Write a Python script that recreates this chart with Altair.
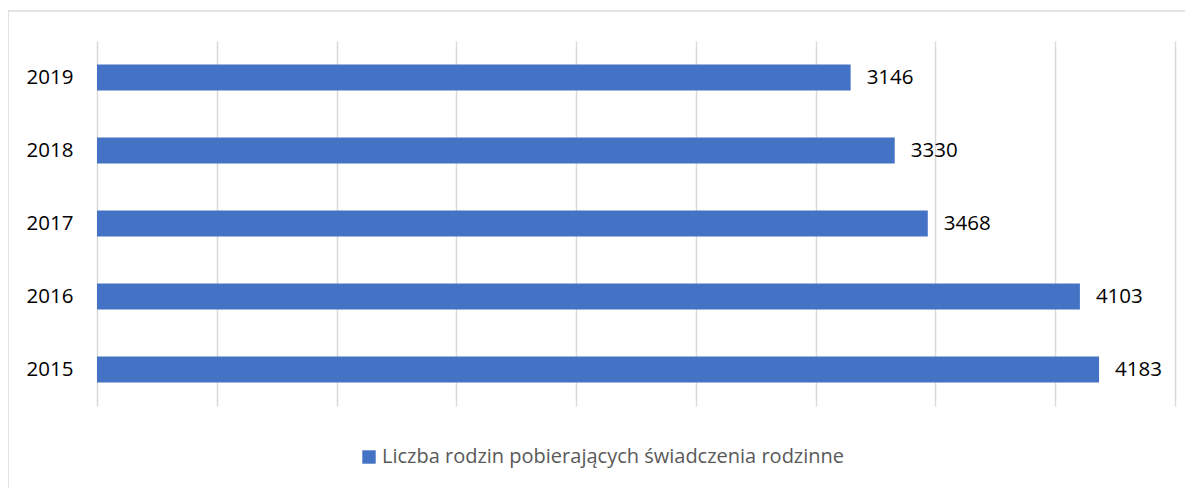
import altair as alt
import pandas as pd

years = ["2019", "2018", "2017", "2016", "2015"]
values = [3146, 3330, 3468, 4103, 4183]
series_name = "Liczba rodzin pobierających świadczenia rodzinne"
x_ticks = [0, 500, 1000, 1500, 2000, 2500, 3000, 3500, 4000, 4500]

df = pd.DataFrame({"rok": years, "liczba": values, "seria": [series_name] * len(years)})

FONT = "Open Sans"
BLUE = "#4472C4"
GRID = "#d9d9d9"

y_enc = alt.Y(
    "rok:N",
    sort=years,
    scale=alt.Scale(paddingInner=0.644, paddingOuter=0.322),
    axis=alt.Axis(title=None, domain=False, ticks=False, grid=False,
                  labelPadding=24, labelFontSize=20.5, labelColor="#000000",
                  labelFont=FONT),
)
x_enc = alt.X(
    "liczba:Q",
    scale=alt.Scale(domain=[0, 4500], nice=False),
    axis=alt.Axis(title=None, values=x_ticks, labels=False, ticks=False,
                  domain=False, grid=True, gridColor=GRID, gridWidth=1.5),
)

base = alt.Chart(df)

bars = base.mark_bar().encode(
    y=y_enc,
    x=x_enc,
    color=alt.Color(
        "seria:N",
        scale=alt.Scale(range=[BLUE]),
        legend=alt.Legend(title=None, orient="none", legendX=262, legendY=406,
                          labelFontSize=20, labelColor="#595959", labelFont=FONT,
                          labelLimit=1000,
                          symbolType="square", symbolSize=180, symbolStrokeWidth=0,
                          labelOffset=3, padding=0),
    ),
)

labels = base.mark_text(align="left", baseline="middle", dx=16, fontSize=20.5,
                        font=FONT, color="#000000").encode(
    y=alt.Y("rok:N", sort=years),
    x=alt.X("liczba:Q"),
    text="liczba:Q",
)

frame = alt.Chart(alt.Data(values=[{}]))
top_rule = frame.mark_rule(color=GRID, strokeWidth=1.5).encode(
    x=alt.value(-89), x2=alt.value(1100), y=alt.value(-30))
left_rule = frame.mark_rule(color=GRID, strokeWidth=1.5).encode(
    x=alt.value(-89), y=alt.value(-30), y2=alt.value(460))

chart = alt.layer(top_rule, left_rule, bars, labels).properties(
    width=1078,
    height=365,
    padding={"left": 89, "top": 33, "right": 10, "bottom": 82},
    autosize=alt.AutoSizeParams(type="none"),
    background="white",
).configure_view(stroke=None)

chart.save("out.html", embed_options={"renderer": "svg", "actions": False})
